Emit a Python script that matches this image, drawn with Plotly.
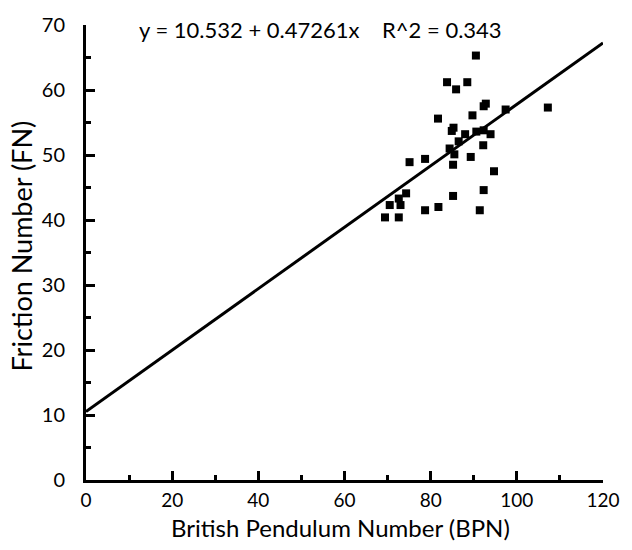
import plotly.graph_objects as go

# Data
bpn = [90.5, 83.8, 88.5, 85.9, 92.3, 92.8, 97.4, 107.2, 81.7, 89.7,
       85.3, 84.9, 88.0, 90.6, 92.3, 93.9, 86.5, 92.2, 84.4, 85.5,
       75.1, 78.7, 89.3, 85.2, 94.7, 74.3, 72.6, 70.5, 73.0, 85.2,
       92.3, 69.4, 72.6, 78.7, 81.8, 91.4]
fn = [65.3, 61.2, 61.2, 60.1, 57.5, 57.9, 57.0, 57.3, 55.6, 56.1,
      54.2, 53.7, 53.2, 53.6, 53.8, 53.2, 52.1, 51.5, 51.0, 50.1,
      48.9, 49.4, 49.7, 48.5, 47.5, 44.1, 43.3, 42.3, 42.3, 43.7,
      44.6, 40.4, 40.4, 41.5, 42.0, 41.5]

intercept = 10.532
slope = 0.47261
r2 = 0.343
fit_x = [0, 120]
fit_y = [intercept + slope * v for v in fit_x]

x_ticks = [0, 20, 40, 60, 80, 100, 120]
y_ticks = [0, 10, 20, 30, 40, 50, 60, 70]

x_title = "British Pendulum Number (BPN)"
y_title = "Friction Number (FN)"

FONT = "Lato, 'DejaVu Sans', sans-serif"

fig = go.Figure()
fig.add_trace(go.Scatter(x=fit_x, y=fit_y, mode="lines",
                         line=dict(color="black", width=3),
                         hoverinfo="skip", showlegend=False))
fig.add_trace(go.Scatter(x=bpn, y=fn, mode="markers",
                         marker=dict(symbol="square", size=8, color="black"),
                         showlegend=False))

# regression equation
fig.add_annotation(x=0.5, y=1.0, xref="paper", yref="paper",
                   xanchor="center", yanchor="middle", xshift=-24, yshift=-4,
                   text=f"y = {intercept} + {slope}x&nbsp;&nbsp;&nbsp;&nbsp;R^2 = {r2}",
                   showarrow=False, font=dict(size=22, color="black", family=FONT))
# axis titles
fig.add_annotation(x=0.5, y=0, xref="paper", yref="paper",
                   xanchor="center", yanchor="middle", xshift=-4, yshift=-47,
                   text=x_title, showarrow=False,
                   font=dict(size=24, color="black", family=FONT))
fig.add_annotation(x=0, y=0.5, xref="paper", yref="paper",
                   xanchor="center", yanchor="middle", xshift=-65, yshift=6,
                   text=y_title, textangle=-90, showarrow=False,
                   font=dict(size=27, color="black", family=FONT))

fig.update_layout(
    width=632, height=550,
    margin=dict(l=86, r=20, t=18, b=70),
    paper_bgcolor="white", plot_bgcolor="white",
    font=dict(family=FONT, color="black", size=20),
    xaxis=dict(range=[0, 120], tickvals=x_ticks, ticks="inside", ticklen=9,
               tickwidth=3, tickcolor="black", showline=True, linewidth=3,
               linecolor="black", showgrid=False, zeroline=False,
               ticklabelstandoff=1,
               minor=dict(dtick=10, ticks="inside", ticklen=5, tickwidth=2.5,
                          tickcolor="black", showgrid=False),
               tickfont=dict(size=19)),
    yaxis=dict(range=[0, 70], tickvals=y_ticks, ticks="inside", ticklen=9,
               tickwidth=3, tickcolor="black", showline=True, linewidth=3,
               linecolor="black", showgrid=False, zeroline=False,
               ticklabelstandoff=14,
               minor=dict(dtick=5, ticks="inside", ticklen=5, tickwidth=2.5,
                          tickcolor="black", showgrid=False),
               tickfont=dict(size=20)),
)

fig.write_html("out.html")
